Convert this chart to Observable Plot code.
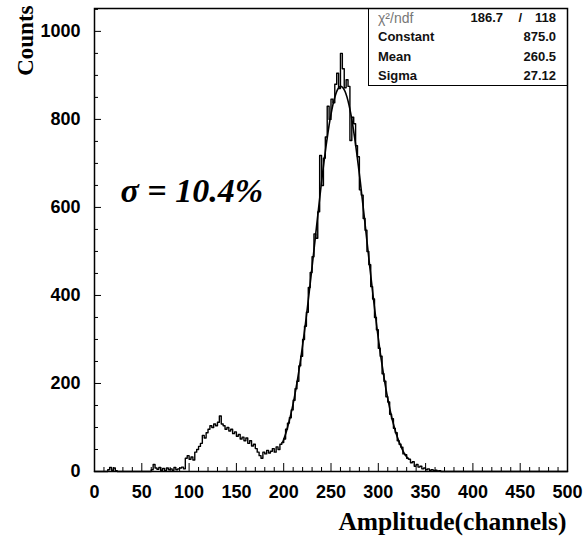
<!DOCTYPE html>
<html><head><meta charset="utf-8">
<script src="https://cdn.jsdelivr.net/npm/d3@7"></script>
<script src="https://cdn.jsdelivr.net/npm/@observablehq/plot@0.6"></script>
<style>
html,body{margin:0;padding:0;background:#fff;}
#wrap{position:relative;width:584px;height:540px;}
#stats{position:absolute;left:368px;top:8px;width:199px;height:78px;border-left:1px solid #000;border-bottom:1px solid #000;box-sizing:border-box;font-family:'Liberation Sans',Arial,sans-serif;font-size:13px;font-weight:bold;color:#111;}
.row{position:absolute;left:9px;right:11px;height:16px;line-height:16px;}
.row span{position:absolute;white-space:nowrap;}
</style></head>
<body><div id="wrap"></div>
<script>
// histogram: bin width 2 channels, first bin starts at channel 0
const binWidth = 2;
const counts = [
 0,0,0,0,0,0,0, 4,9,3,8,2,
 0,0,0,0,0,0,0,0,0,0,0,0,0,0,0,0,0,0,
 4,16,8,5,9,3,7,2,8,4,6,3,9,4,6,8,10,6,
 30,36,28,33,26,44,50,57,64,82,76,88,96,104,100,108,104,112,126,108,
 104,96,100,92,96,86,90,80,84,74,78,70,76,64,70,58,62,52,44,36,
 30,44,40,48,42,46,52,44,56,50,62,66,
 74,96,110,122,140,162,188,205,240,262,300,330,362,418,452,488,540,530,590,718,
 650,712,760,830,800,846,838,880,905,870,950,915,872,890,875,752,805,790,740,715,
 640,628,575,548,500,470,420,392,350,322,280,262,222,205,170,158,130,120,98,88,
 70,62,55,40,38,30,28,20,22,12,16,10,12,6,8,4,6,3,4,2,3,1,2,
 0,0,0,0,0,0,0,0,0,0,0,0,0,0,0,0,0
];
const fitStart = 199, fitStep = 2;
const fitValues = [67,79,92,108,125,144,165,189,214,242,271,303,336,371,408,446,484,523,562,601,
 639,676,711,743,773,800,823,842,857,868,874,875,871,863,850,833,812,787,758,727,
 693,658,620,582,543,504,465,427,390,354,319,287,256,228,201,177,155,134,116,100,
 85,73,62,52,43,36,30];
const xTicks = [0,50,100,150,200,250,300,350,400,450,500];
const yTicks = [0,200,400,600,800,1000];
const statsLabels = ["χ²/ndf","Constant","Mean","Sigma"];
const statsValues = ["","875.0","260.5","27.12"];
const chi2 = "186.7", ndf = "118";
const xTitle = "Amplitude(channels)", yTitle = "Counts", note = "σ = 10.4%";

const hist = counts.map((c,i)=>({x:i*binWidth, y:c}));
hist.push({x:500, y:0});
const fit = fitValues.map((v,i)=>({x:fitStart+i*fitStep, y:v}));

const W=584,H=540,mL=94,mR=17,mT=8,mB=69;
const fw=W-mL-mR, fh=H-mT-mB;
const xMinor = d3.range(0,501,10).filter(v=>v%50);
const yMinor = d3.range(0,1051,50).filter(v=>v%200);
const serif = "'Liberation Serif','Times New Roman',serif";

const chart = Plot.plot({
  width:W, height:H, marginLeft:mL, marginRight:mR, marginTop:mT, marginBottom:mB,
  x:{domain:[0,500]}, y:{domain:[0,1052]},
  style:{fontFamily:"'Liberation Sans',Arial,sans-serif", fontSize:"18px", fontWeight:"bold", color:"#000", background:"#fff"},
  marks:[
    Plot.line(hist,{x:"x",y:"y",curve:"step-after",stroke:"#000",strokeWidth:1.4}),
    Plot.line(fit,{x:"x",y:"y",curve:"natural",stroke:"#000",strokeWidth:1.6}),
    Plot.tickX(xTicks,{x:d=>d, insetTop:fh-8, stroke:"#000"}),
    Plot.tickX(xMinor,{x:d=>d, insetTop:fh-4, stroke:"#000"}),
    Plot.tickY(yTicks,{y:d=>d, insetRight:fw-7, stroke:"#000"}),
    Plot.tickY(yMinor,{y:d=>d, insetRight:fw-4, stroke:"#000"}),
    Plot.axisX({ticks:xTicks, tickSize:0, tickPadding:14, label:null, tickFormat:d=>String(d)}),
    Plot.axisY({ticks:yTicks, tickSize:0, tickPadding:14, label:null, tickFormat:d=>String(d)}),
    Plot.frame({stroke:"#000", strokeWidth:1.5}),
    Plot.text([yTitle],{frameAnchor:"top-left", dx:25-mL, dy:5-mT, rotate:-90, textAnchor:"end", lineAnchor:"middle", fontFamily:serif, fontSize:23, fontWeight:"bold"}),
    Plot.text([xTitle],{frameAnchor:"bottom-right", dx:-1, dy:50, textAnchor:"end", lineAnchor:"middle", fontFamily:serif, fontSize:25.5, fontWeight:"bold"}),
    Plot.text([note],{frameAnchor:"top-left", dx:120-mL, dy:191-mT, textAnchor:"start", lineAnchor:"middle", fontFamily:serif, fontSize:34, fontWeight:"bold", fontStyle:"italic"})
  ]
});
const wrap = document.getElementById("wrap");
wrap.appendChild(chart);

const box = document.createElement("div");
box.id = "stats";
const tops = [2,21,41,60];
statsLabels.forEach((lab,i)=>{
  const r = document.createElement("div");
  r.className = "row";
  r.style.top = tops[i]+"px";
  const l = document.createElement("span");
  l.style.left = "0"; l.textContent = lab;
  if (i===0){ l.style.fontWeight="normal"; l.style.color="#777"; l.style.fontSize="14px"; }
  r.appendChild(l);
  if (i===0){
    const a = document.createElement("span"); a.style.right="53px"; a.textContent = chi2; r.appendChild(a);
    const s = document.createElement("span"); s.style.right="34px"; s.textContent = "/"; r.appendChild(s);
    const b = document.createElement("span"); b.style.right="0"; b.textContent = ndf; r.appendChild(b);
  } else {
    const v = document.createElement("span"); v.style.right="0"; v.textContent = statsValues[i]; r.appendChild(v);
  }
  box.appendChild(r);
});
wrap.appendChild(box);
</script>
</body></html>
